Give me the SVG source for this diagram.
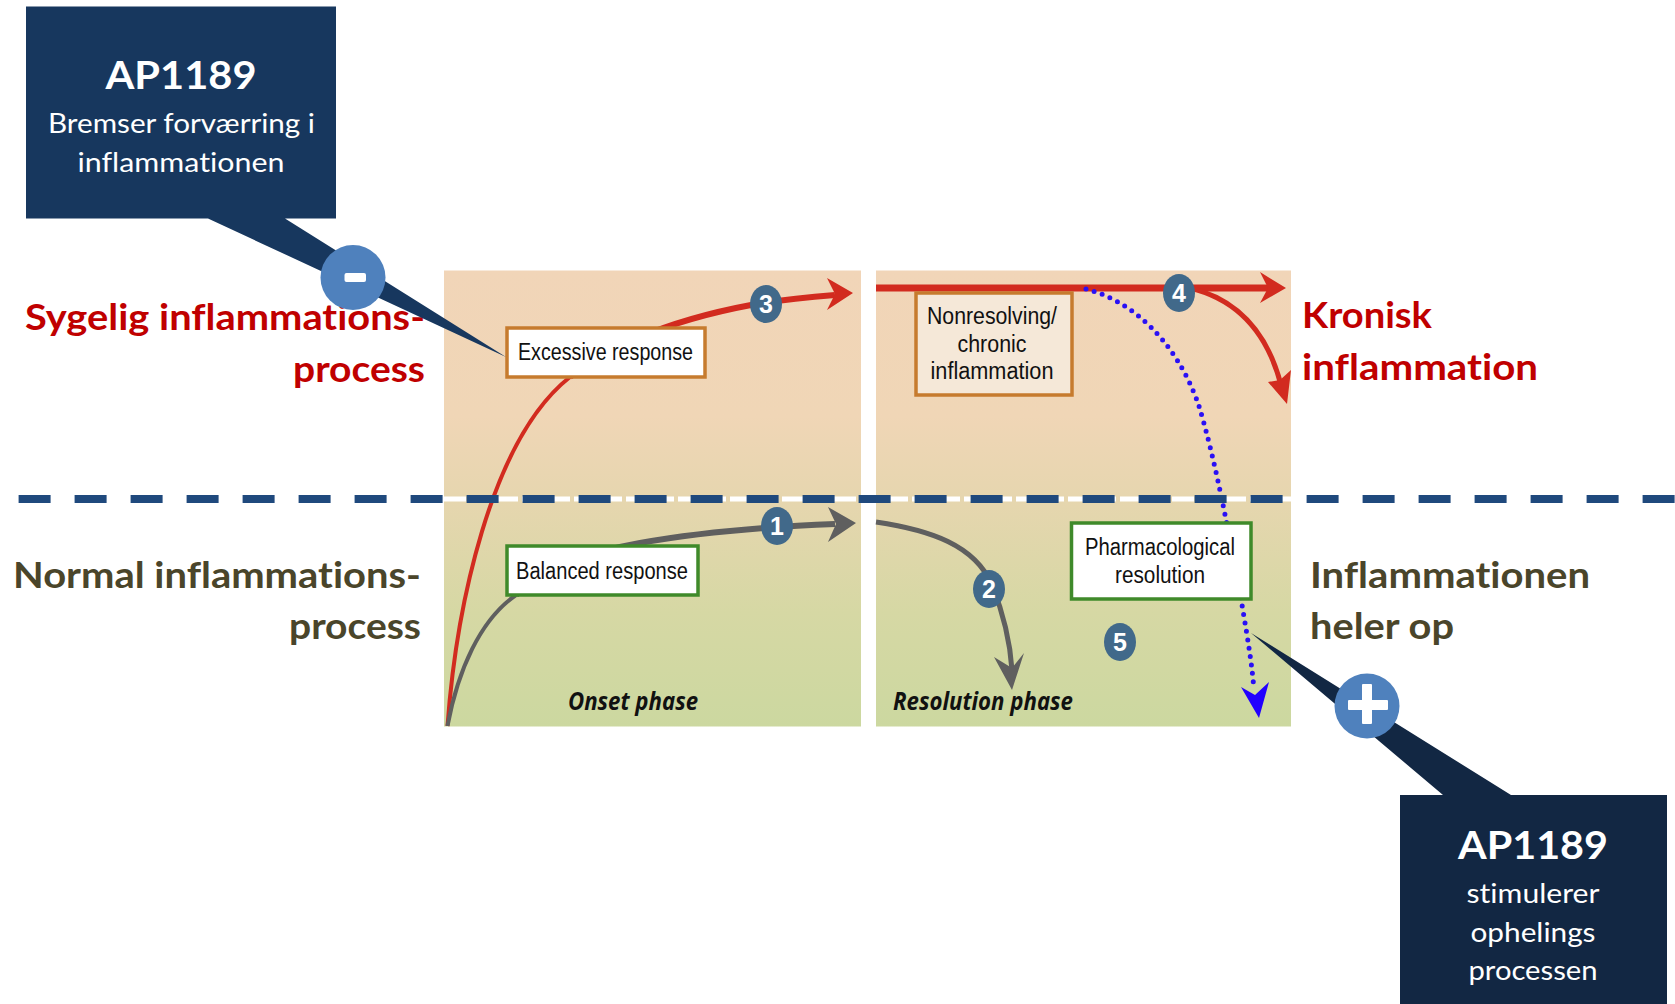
<svg xmlns="http://www.w3.org/2000/svg" width="1675" height="1004" viewBox="0 0 1675 1004">
<style>
text{font-variant-ligatures:none}
.lab{font-family:Lato,"Liberation Sans",sans-serif;font-weight:700;font-size:37px}
.red{fill:#c00000}.olive{fill:#4a452a}
.h{font-family:Lato,"Liberation Sans",sans-serif;font-weight:700;font-size:39px;fill:#fff;text-anchor:middle}
.b{font-family:Lato,"Liberation Sans",sans-serif;font-size:27px;fill:#fff;text-anchor:middle}
.t{font-family:"Liberation Sans",sans-serif;font-size:23px;fill:#111;text-anchor:middle}
.ph{font-family:"Open Sans","Liberation Sans",sans-serif;font-size:25px;font-weight:700;font-style:italic;fill:#111;text-anchor:middle}
.n{font-family:"Liberation Sans",sans-serif;font-size:25px;font-weight:700;fill:#fff;text-anchor:middle}
.bg{fill:#41698a}
.boxO{stroke:#c67b2e;stroke-width:3.5}.boxG{stroke:#3f8a2a;stroke-width:3.5}
.cr{fill:none;stroke:#d22b1f}
.cg{fill:none;stroke:#5f5f5f}
</style>
<defs>
<linearGradient id="pg" x1="0" y1="270" x2="0" y2="726" gradientUnits="userSpaceOnUse">
<stop offset="0" stop-color="#f1d5b8"/><stop offset="0.32" stop-color="#f0d6b6"/><stop offset="0.52" stop-color="#e5d6ae"/><stop offset="0.75" stop-color="#d6d8a4"/><stop offset="1" stop-color="#ccd8a0"/>
</linearGradient>
</defs>
<g id="panels">
<rect id="panel-onset" x="444" y="270.5" width="417" height="456" fill="url(#pg)"/>
<rect id="panel-resolution" x="876" y="270.5" width="415" height="456" fill="url(#pg)"/>
</g>
<g id="connectors">
<path class="cr" stroke-width="4" d="M447.500 726C456 610 490 440 570 377"/>
<path class="cr" stroke-width="6" d="M570 377C600 352 660 322 751 305C785 299 810 297 835 295"/>
<path fill="#d22b1f" d="M853 293L827 278L835 294L827 310Z"/>
<path class="cg" stroke-width="4" d="M447.500 726C458 670 480 620 516 595"/>
<path class="cg" stroke-width="6" d="M516 595C550 565 590 552 640 543C690 534 760 527 835 524"/>
<path fill="#5f5f5f" d="M856 523L828 507L836 524L828 542Z"/>
<path class="cr" stroke-width="7" d="M876 288H1268"/>
<path fill="#d22b1f" d="M1286 288L1260 272L1268 288L1260 303Z"/>
<path class="cr" stroke-width="5" d="M1190 288C1240 300 1268 335 1281 385"/>
<path fill="#d22b1f" d="M1287 404L1268 382L1280 380L1291 370Z"/>
<path class="cg" stroke-width="5" d="M876 522C930 530 975 545 992 585C1002 610 1010 640 1012 670"/>
<path fill="#5f5f5f" d="M1012 690L994 657L1012 668L1024 653Z"/>
<path fill="none" stroke="#2a10f5" stroke-width="5" stroke-linecap="round" stroke-dasharray="0 8.500" d="M1086 289C1132 301 1175 340 1198 403C1216 460 1232 550 1242 605C1248 640 1252 665 1254 690"/>
<path fill="#2200ff" d="M1259 718L1241 687L1255 695L1269 682Z"/>
</g>
<g id="node-excessive"><rect class="boxO" x="507" y="328" width="198" height="49" fill="#fff"/><text class="t" x="605.500" y="360" textLength="175" lengthAdjust="spacingAndGlyphs">Excessive response</text></g>
<g id="node-balanced"><rect class="boxG" x="507" y="546" width="191" height="49" fill="#fff"/><text class="t" x="602" y="579" textLength="172" lengthAdjust="spacingAndGlyphs">Balanced response</text></g>
<g id="node-nonresolving"><rect class="boxO" x="916" y="293" width="156" height="102" fill="#f5e8d8"/>
<text class="t" x="992" y="324" textLength="130" lengthAdjust="spacingAndGlyphs">Nonresolving/</text>
<text class="t" x="992" y="352" textLength="69" lengthAdjust="spacingAndGlyphs">chronic</text>
<text class="t" x="992" y="379" textLength="123" lengthAdjust="spacingAndGlyphs">inflammation</text></g>
<g id="node-pharmacological"><rect class="boxG" x="1071.500" y="523" width="179.500" height="76" fill="#fff"/>
<text class="t" x="1160" y="555" textLength="150" lengthAdjust="spacingAndGlyphs">Pharmacological</text>
<text class="t" x="1160" y="583" textLength="90" lengthAdjust="spacingAndGlyphs">resolution</text></g>
<g id="badges">
<g id="badge-1"><ellipse class="bg" cx="777" cy="526" rx="16" ry="19"/><text class="n" x="777" y="535">1</text></g>
<g id="badge-2"><ellipse class="bg" cx="989" cy="589" rx="16" ry="19"/><text class="n" x="989" y="598">2</text></g>
<g id="badge-3"><ellipse class="bg" cx="766" cy="304" rx="16" ry="19"/><text class="n" x="766" y="313">3</text></g>
<g id="badge-4"><ellipse class="bg" cx="1179" cy="293" rx="16" ry="19"/><text class="n" x="1179" y="302">4</text></g>
<g id="badge-5"><ellipse class="bg" cx="1120" cy="642" rx="16" ry="19"/><text class="n" x="1120" y="651">5</text></g>
</g>
<text class="ph" x="633" y="710" textLength="130" lengthAdjust="spacingAndGlyphs">Onset phase</text>
<text class="ph" x="983" y="710" textLength="180" lengthAdjust="spacingAndGlyphs">Resolution phase</text>
<g id="divider">
<line x1="444" y1="499" x2="1291" y2="499" stroke="#fff" stroke-width="5" stroke-dasharray="22 4"/>
<line x1="18.600" y1="499" x2="1675" y2="499" stroke="#1f497d" stroke-width="8" stroke-dasharray="32 24"/>
</g>
<g id="labels">
<text class="lab red" x="25" y="330" textLength="400" lengthAdjust="spacingAndGlyphs">Sygelig inflammations-</text>
<text class="lab red" x="293" y="382" textLength="132" lengthAdjust="spacingAndGlyphs">process</text>
<text class="lab olive" x="13" y="588" textLength="408" lengthAdjust="spacingAndGlyphs">Normal inflammations-</text>
<text class="lab olive" x="289" y="639" textLength="132" lengthAdjust="spacingAndGlyphs">process</text>
<text class="lab red" x="1302" y="328" textLength="130" lengthAdjust="spacingAndGlyphs">Kronisk</text>
<text class="lab red" x="1302" y="380" textLength="236" lengthAdjust="spacingAndGlyphs">inflammation</text>
<text class="lab olive" x="1310" y="588" textLength="280" lengthAdjust="spacingAndGlyphs">Inflammationen</text>
<text class="lab olive" x="1310" y="639" textLength="144" lengthAdjust="spacingAndGlyphs">heler op</text>
</g>
<g id="callout-minus">
<path fill="#17375e" d="M26 6.500H336V218.500H285L506 357L208 218.500H26Z"/>
<circle cx="353" cy="277.500" r="32.500" fill="#4f81bd"/>
<rect x="344.500" y="273" width="21.500" height="9" rx="2" fill="#fff"/>
<text class="h" x="181" y="89" textLength="151" lengthAdjust="spacingAndGlyphs">AP1189</text>
<text class="b" x="181.500" y="132.500" textLength="267" lengthAdjust="spacingAndGlyphs">Bremser forværring i</text>
<text class="b" x="181" y="171.500" textLength="207" lengthAdjust="spacingAndGlyphs">inflammationen</text>
</g>
<g id="callout-plus">
<path fill="#122743" d="M1400 1004V795H1443L1251 633L1511 795H1667V1004Z"/>
<circle cx="1367" cy="706" r="32.500" fill="#4f81bd"/>
<path fill="#fff" d="M1363 684h8a1 1 0 0 1 1 1v15h15a1 1 0 0 1 1 1v8a1 1 0 0 1-1 1h-15v13a1 1 0 0 1-1 1h-8a1 1 0 0 1-1-1v-13h-13a1 1 0 0 1-1-1v-8a1 1 0 0 1 1-1h13v-15a1 1 0 0 1 1-1z"/>
<text class="h" x="1533" y="859" textLength="150" lengthAdjust="spacingAndGlyphs">AP1189</text>
<text class="b" x="1533" y="903" textLength="133" lengthAdjust="spacingAndGlyphs">stimulerer</text>
<text class="b" x="1533" y="942" textLength="125" lengthAdjust="spacingAndGlyphs">ophelings</text>
<text class="b" x="1533" y="980" textLength="129" lengthAdjust="spacingAndGlyphs">processen</text>
</g>
</svg>
